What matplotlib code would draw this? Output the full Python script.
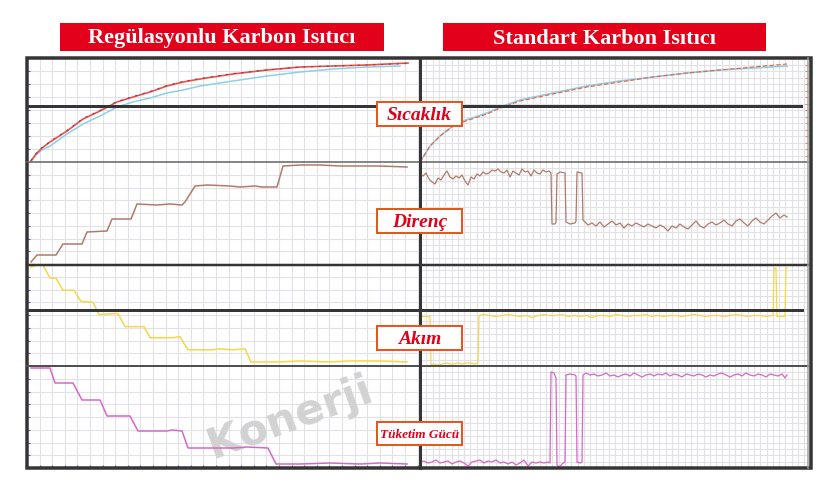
import numpy as np
import matplotlib
matplotlib.use("Agg")
import matplotlib.pyplot as plt
from matplotlib.patches import Rectangle

W, H = 840, 485

# ---- data: x = time (s from panel start), y = level (panel units) ----
# left (regulated) panel
lt_x = [4, 9, 15, 23, 40, 56, 73, 90, 106, 123, 140, 156, 173, 206, 240, 273, 306, 340, 381]
lt_red = [1, 8, 14, 20, 31, 43, 51, 60, 65, 70, 76, 80, 83, 88, 92, 95, 96, 97, 99]
lt_purple = [1.5, 8.5, 14.5, 20.5, 31.5, 43.5, 51.5, 60.5, 65.5, 70.5, 76.5, 80.5, 83.5, 88.5, 92, 95, 96, 97, 98.5]
lt_bx = [4, 9, 15, 23, 40, 56, 73, 90, 106, 123, 140, 156, 173, 206, 240, 273, 306, 340, 373]
lt_blue = [1, 7, 12, 16, 28, 38, 46, 55, 60, 64, 69, 72, 76, 81, 86, 90, 93, 95, 96]

lr_x = [4, 10, 29, 36, 55, 60, 80, 85, 104, 110, 130, 143, 155, 158, 168, 180, 203, 213, 228, 235, 250, 256,
        273, 293, 313, 333, 353, 380]
lr_y = [2, 9, 9, 20, 20, 32, 33, 45, 45, 60, 59, 60, 59, 62, 78, 79, 78, 77, 78, 77, 77, 98,
        99, 99, 98, 98, 98, 97]

lc_x = [4, 10, 16, 23, 29, 36, 47, 54, 66, 72, 91, 98, 117, 123, 146, 153, 161, 186, 191, 206, 218, 224,
        253, 273, 303, 323, 353, 380]
lc_y = [98, 100, 100, 87, 87, 75, 75, 64, 63, 51, 52, 39, 39, 28, 28, 29, 16, 16, 17, 16, 17, 4,
        4, 5, 4, 5, 5, 4]

lp_x = [4, 23, 28, 46, 55, 73, 80, 103, 111, 140, 145, 155, 161, 206, 220, 241, 249, 273, 303, 333, 353, 380]
lp_y = [100, 100, 85, 85, 68, 68, 52, 52, 37, 37, 38, 37, 20, 20, 21, 20, 4, 4, 5, 4, 5, 4]

# right (standard) panel
rt_x = [0, 5, 10, 20, 33, 43, 67, 83, 100, 133, 167, 200, 233, 267, 300, 333, 367]
rt_red = [0, 8, 16, 26, 36, 40, 48, 55, 61, 68, 75, 80, 85, 89, 92, 95, 98]
rt_blue = [0, 8, 16, 26, 36, 41, 49, 56, 62, 69, 76, 81, 85, 89, 92, 94, 96]

rr_x = [0, 3, 6, 9, 12, 15, 18, 21, 24, 27, 30, 33, 36, 39, 42, 45, 48, 51, 54, 57, 60, 63, 66, 69, 72,
        75, 78, 81, 84, 87, 90, 93, 96, 99, 102, 105, 108, 111, 114, 117, 120, 123, 126, 129, 131,
        132, 135, 136, 137, 140, 145, 146, 150, 155, 156, 157, 162, 163,
        164, 168, 172, 176, 180, 184, 188, 192, 196, 200, 204, 208, 212, 216, 220, 224, 228, 232, 236,
        240, 244, 248, 252, 256, 260, 264, 268, 272, 276, 280, 284, 288, 292, 296, 300, 304, 308, 312,
        316, 320, 324, 328, 332, 336, 340, 344, 348, 352, 356, 360, 364, 367]
rr_y = [90, 88, 91, 85, 82, 80, 86, 84, 89, 93, 87, 85, 88, 86, 89, 83, 79, 87, 85, 90, 88, 92, 90, 91, 94,
        93, 95, 92, 91, 94, 87, 93, 91, 89, 95, 92, 93, 88, 94, 91, 90, 94, 92, 93, 91,
        40, 40, 42, 90, 92, 91, 42, 40, 41, 43, 92, 91, 44,
        43, 39, 41, 38, 42, 37, 40, 43, 39, 41, 36, 40, 38, 41, 39, 37, 40, 38, 36,
        39, 37, 33, 38, 36, 40, 37, 35, 39, 43, 38, 36, 40, 42, 39, 41, 44, 40, 38,
        43, 45, 41, 38, 43, 46, 42, 40, 44, 48, 51, 46, 49, 47]

rc_x = [0, 10, 11, 14, 18, 22, 26, 30, 34, 38, 42, 46, 50, 54, 58,
        59, 64, 70, 76, 82, 88, 94, 100, 106, 112, 118, 124, 130, 136, 142, 148, 154, 160, 166, 172,
        178, 184, 190, 196, 202, 208, 214, 220, 226, 232, 238, 244, 250, 256, 262, 268, 274, 280, 286,
        292, 298, 304, 310, 316, 322, 328, 334, 340, 346, 353,
        354, 356, 357, 365, 366, 367]
rc_y = [49, 49, 1, 2, 1, 2, 3, 2, 2, 3, 2, 3, 3, 2, 3,
        50, 51, 50, 49, 50, 51, 50, 49, 50, 48, 50, 51, 50, 50, 51, 49, 50, 49, 50, 48,
        50, 50, 49, 51, 50, 49, 50, 50, 51, 49, 50, 49, 50, 50, 49, 50, 51, 50, 49,
        50, 50, 49, 50, 51, 50, 49, 50, 50, 49, 50,
        97, 97, 49, 49, 97, 97]

rp_x = [0, 4, 8, 12, 16, 20, 24, 28, 32, 36, 40, 44, 48, 52, 56, 60, 64, 68, 72, 76, 80, 84, 88, 92, 96,
        100, 104, 108, 112, 116, 120, 124, 128, 130,
        131, 134, 136, 137, 139, 142, 145, 146, 150, 155, 156, 157, 160, 162, 163,
        166, 170, 174, 178, 182, 186, 190, 194, 198, 202, 206, 210, 214, 218, 222, 226, 230, 234, 238,
        242, 246, 250, 254, 258, 262, 266, 270, 274, 278, 282, 286, 290, 294, 298, 302, 306, 310, 314,
        318, 322, 326, 330, 334, 338, 342, 346, 350, 354, 358, 362, 365, 367]
rp_y = [6, 7, 5, 6, 8, 5, 6, 7, 4, 6, 7, 5, 2, 6, 7, 8, 5, 7, 6, 8, 5, 6, 4, 6, 3,
        5, 8, 2, 6, 5, 6, 5, 6, 5,
        96, 95, 90, 3, 1, 4, 6, 93, 94, 93, 92, 6, 5, 6, 93,
        95, 93, 94, 92, 93, 95, 92, 93, 91, 93, 94, 92, 95, 93, 91, 93, 94, 92, 94,
        93, 95, 92, 94, 93, 91, 94, 93, 92, 94, 93, 91, 93, 92, 94, 95, 93, 91, 93,
        94, 92, 95, 93, 92, 94, 93, 91, 94, 93, 92, 94, 90, 93]

titles = ["Regülasyonlu Karbon Isıtıcı", "Standart Karbon Isıtıcı"]
labels = ["Sıcaklık", "Direnç", "Akım", "Tüketim Gücü"]

fig = plt.figure(figsize=(W / 100, H / 100), dpi=100)
fig.patch.set_facecolor("white")


def px_axes(x0, x1, y0, y1):
    return fig.add_axes([x0 / W, 1 - y1 / H, (x1 - x0) / W, (y1 - y0) / H])


def setup(ax, xmax, ymax, fine, tickside=None):
    ax.set_xlim(0, xmax)
    ax.set_ylim(0, ymax)
    step = 6.3 if fine else 12.6
    ny = 16 if fine else 8
    ax.set_xticks(np.arange(step, xmax, step))
    ax.set_yticks(np.linspace(0, ymax, ny + 1)[1:-1])
    ax.grid(True, color="#e2e2e6", lw=0.8)
    ax.set_axisbelow(True)
    ax.set_xticklabels([])
    ax.set_yticklabels([])
    ax.tick_params(length=0)
    if tickside == "left":
        ax.tick_params(axis="y", direction="in", length=2.5, color="#6a50b0", width=0.8)
    elif tickside == "right":
        ax.tick_params(axis="y", direction="in", length=2, color="#f08060", width=0.8,
                       left=False, right=True)
    for s in ax.spines.values():
        s.set_visible(False)


rows = [(59, 163, 104), (163, 265, 102), (265, 367, 101), (367, 469, 102)]

# left panels
ax = px_axes(27, 420, *rows[0][:2])
setup(ax, 393, rows[0][2], False, "left")
ax.plot(lt_bx, lt_blue, color="#8cd0e4", lw=1.1)
ax.plot(lt_x, lt_red, color="#f0503a", lw=1.2)
ax.plot(lt_x, lt_purple, color="#7040a8", lw=0.8, dashes=(2, 5))

ax = px_axes(27, 420, *rows[1][:2])
setup(ax, 393, rows[1][2], False, "left")
ax.plot(lr_x, lr_y, color="#b27a6a", lw=1.1)

ax = px_axes(27, 420, *rows[2][:2])
setup(ax, 393, rows[2][2], False, "left")
ax.plot(lc_x, lc_y, color="#f7d64a", lw=1.1)

ax = px_axes(27, 420, *rows[3][:2])
setup(ax, 393, rows[3][2], False, "left")
ax.tick_params(axis="x", direction="in", length=2.5, color="#6a50b0", width=0.8)
# watermark sits under the power line
ax.text(0.668, 0.50, "Konerji", transform=ax.transAxes, color="#d2d2d2", fontsize=31,
        fontweight="bold", family="DejaVu Sans", rotation=20, ha="center", va="center",
        zorder=1.5, clip_on=False)
ax.plot(lp_x, lp_y, color="#d768c8", lw=1.1, zorder=3)

# right panels
ax = px_axes(420, 808, *rows[0][:2])
setup(ax, 388, rows[0][2], True, "right")
ax.plot(rt_x, rt_blue, color="#8cd0e4", lw=1.2)
ax.plot(rt_x, rt_red, color="#f0603e", lw=0.8, dashes=(4, 2))

ax = px_axes(420, 808, *rows[1][:2])
setup(ax, 388, rows[1][2], True)
ax.plot(rr_x, rr_y, color="#b27a6a", lw=0.9)

ax = px_axes(420, 808, *rows[2][:2])
setup(ax, 388, rows[2][2], True)
ax.plot(rc_x, rc_y, color="#f7d64a", lw=0.9)

ax = px_axes(420, 808, *rows[3][:2])
setup(ax, 388, rows[3][2], True)
ax.plot(rp_x, rp_y, color="#d768c8", lw=0.9)

# decoration layer: frames, title boxes, label boxes
deco = fig.add_axes([0, 0, 1, 1], facecolor="none")
deco.set_xlim(0, W)
deco.set_ylim(H, 0)
deco.axis("off")

pt = 0.72  # px -> points
dark = "#353535"
# dividers
deco.plot([27, 808], [163, 163], color="#606060", lw=1.5 * pt)
deco.plot([27, 808], [266, 266], color=dark, lw=2.5 * pt)
deco.plot([27, 808], [367, 367], color="#505050", lw=2 * pt)
# thick mid lines
deco.plot([27, 420], [107, 107], color=dark, lw=3 * pt)
deco.plot([420, 801], [107, 107], color=dark, lw=3 * pt)
deco.plot([27, 420], [311, 311], color=dark, lw=3 * pt)
deco.plot([420, 802], [311, 311], color=dark, lw=3 * pt)
# inner right gray line and outer frame
deco.plot([808, 808], [59, 469], color="#a0a0a0", lw=1.5 * pt)
deco.add_patch(Rectangle((27, 59), 784, 410, fill=False, edgecolor=dark, lw=3.5 * pt))
deco.plot([420, 420], [59, 469], color=dark, lw=3 * pt)

# title boxes
for (x0, x1), t in zip([(60, 384), (443, 766)], titles):
    deco.add_patch(Rectangle((x0, 24), x1 - x0, 28, facecolor="#e3001b", edgecolor="none"))
    deco.text((x0 + x1) / 2, 38.5, t, color="white", fontsize=16, fontweight="bold",
              family="Liberation Serif", ha="center", va="center")

# section labels
for (y0, y1), t in zip([(103, 127), (210, 234), (327, 351), (423, 446)], labels):
    deco.add_patch(Rectangle((377, y0), 85, y1 - y0, facecolor="white", edgecolor="#e8561e",
                             lw=2 * pt, zorder=5))
    fs = 9.5 if len(t) > 8 else 14
    deco.text(419.5, (y0 + y1) / 2 + 0.5, t, color="#e0001a", fontsize=fs, fontweight="bold",
              fontstyle="italic", family="Liberation Serif", ha="center", va="center", zorder=6)

fig.savefig("out.png", dpi=100)
